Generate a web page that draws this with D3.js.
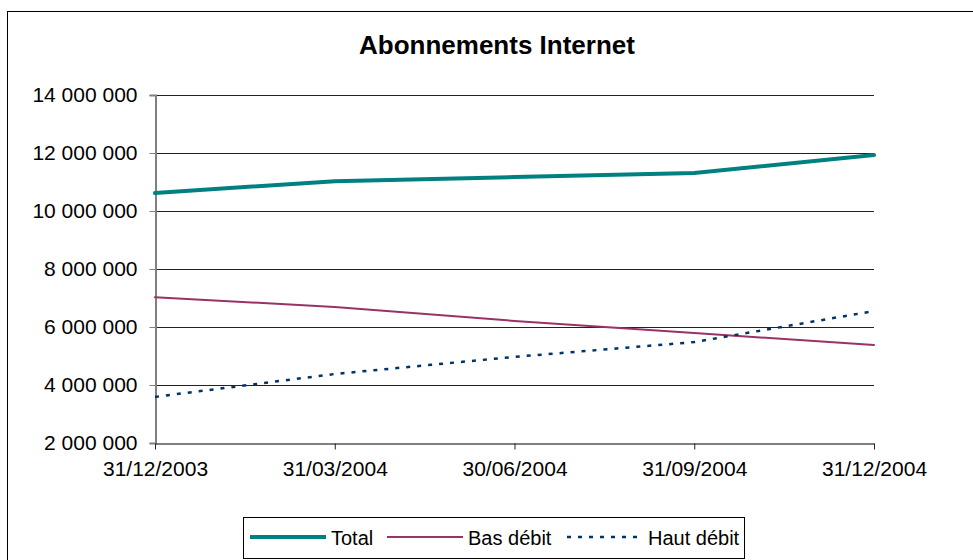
<html>
<head>
  <title>Abonnements Internet</title>
  <script src="https://d3js.org/d3.v7.min.js"></script>
  <style>
    body { margin: 0; background: #fff; }
    text { font-family: "Liberation Sans", Arial, sans-serif; }
  </style>
</head>
<body>
  <script>
    var w = 973;
    var h = 560;
    var dates = ["31/12/2003", "31/03/2004", "30/06/2004", "31/09/2004", "31/12/2004"];
    var total = [10620000, 11030000, 11170000, 11310000, 11930000];
    var basDebit = [7030000, 6690000, 6210000, 5790000, 5380000];
    var hautDebit = [3590000, 4380000, 4970000, 5480000, 6550000];
    var yTicks = [2000000, 4000000, 6000000, 8000000, 10000000, 12000000, 14000000];

    var series = [
      {name: "Total", values: total, color: "#008080", width: 4, dash: null},
      {name: "Bas débit", values: basDebit, color: "#993366", width: 2, dash: null},
      {name: "Haut débit", values: hautDebit, color: "#003366", width: 2.5, dash: "4,7"}
    ];

    var svg = d3.select("body").append("svg").attr("width", w).attr("height", h);

    // outer chart frame
    svg.append("rect").attr("x", 7.5).attr("y", 11.5).attr("width", 980).attr("height", 560)
      .attr("fill", "none").attr("stroke", "#000").attr("stroke-width", 1);

    svg.append("text").attr("x", 497).attr("y", 54).attr("text-anchor", "middle")
      .attr("font-size", 26).attr("font-weight", "bold").text("Abonnements Internet");

    var x = d3.scalePoint().domain(dates).range([155, 874]);
    var y = d3.scaleLinear().domain([2000000, 14000000]).range([443, 95]);
    var fmt = function(d){ return d3.format(",")(d).replace(/,/g, " "); };

    // gridlines
    svg.selectAll(".grid").data(yTicks.slice(1)).enter().append("line")
      .attr("x1", 155).attr("x2", 874)
      .attr("y1", function(d){ return Math.round(y(d)) + 0.5; })
      .attr("y2", function(d){ return Math.round(y(d)) + 0.5; })
      .attr("stroke", "#222").attr("stroke-width", 1);

    var yAxis = svg.append("g").attr("transform", "translate(155.5,0)")
      .call(d3.axisLeft(y).tickValues(yTicks).tickFormat(fmt).tickSize(6).tickPadding(12));
    yAxis.select(".domain").attr("stroke", "#808080").attr("stroke-width", 2);
    yAxis.selectAll(".tick line").attr("stroke", "#808080");
    yAxis.selectAll("text").attr("font-size", 21).attr("fill", "#000")
      .attr("font-family", "Liberation Sans, Arial, sans-serif");

    var xAxis = svg.append("g").attr("transform", "translate(0,443.5)")
      .call(d3.axisBottom(x).tickSize(6).tickSizeOuter(0).tickPadding(12));
    xAxis.select(".domain").attr("stroke", "#555").attr("stroke-width", 1.5);
    xAxis.selectAll(".tick line").attr("stroke", "#222");
    xAxis.selectAll("text").attr("font-size", 21).attr("fill", "#000")
      .attr("font-family", "Liberation Sans, Arial, sans-serif");

    var line = d3.line()
      .x(function(d, i){ return x(dates[i]); })
      .y(function(d){ return y(d); });

    svg.selectAll(".series").data(series).enter().append("path")
      .attr("d", function(s){ return line(s.values); })
      .attr("fill", "none")
      .attr("stroke", function(s){ return s.color; })
      .attr("stroke-width", function(s){ return s.width; })
      .attr("stroke-dasharray", function(s){ return s.dash; })
      .attr("stroke-linecap", function(s){ return s.dash ? "butt" : "round"; });

    // legend
    var lg = svg.append("g");
    lg.append("rect").attr("x", 243.5).attr("y", 517.5).attr("width", 501).attr("height", 41)
      .attr("fill", "#fff").attr("stroke", "#000").attr("stroke-width", 1);
    var lx = [250, 387, 567];
    var items = lg.selectAll(".item").data(series).enter().append("g")
      .attr("transform", function(s, i){ return "translate(" + lx[i] + ",537)"; });
    items.append("line").attr("x1", 0).attr("x2", 76).attr("y1", 0).attr("y2", 0)
      .attr("stroke", function(s){ return s.color; })
      .attr("stroke-width", function(s){ return s.width; })
      .attr("stroke-dasharray", function(s){ return s.dash; });
    items.append("text").attr("x", 81).attr("y", 7.5).attr("font-size", 20).text(function(s){ return s.name; });
  </script>
</body>
</html>
